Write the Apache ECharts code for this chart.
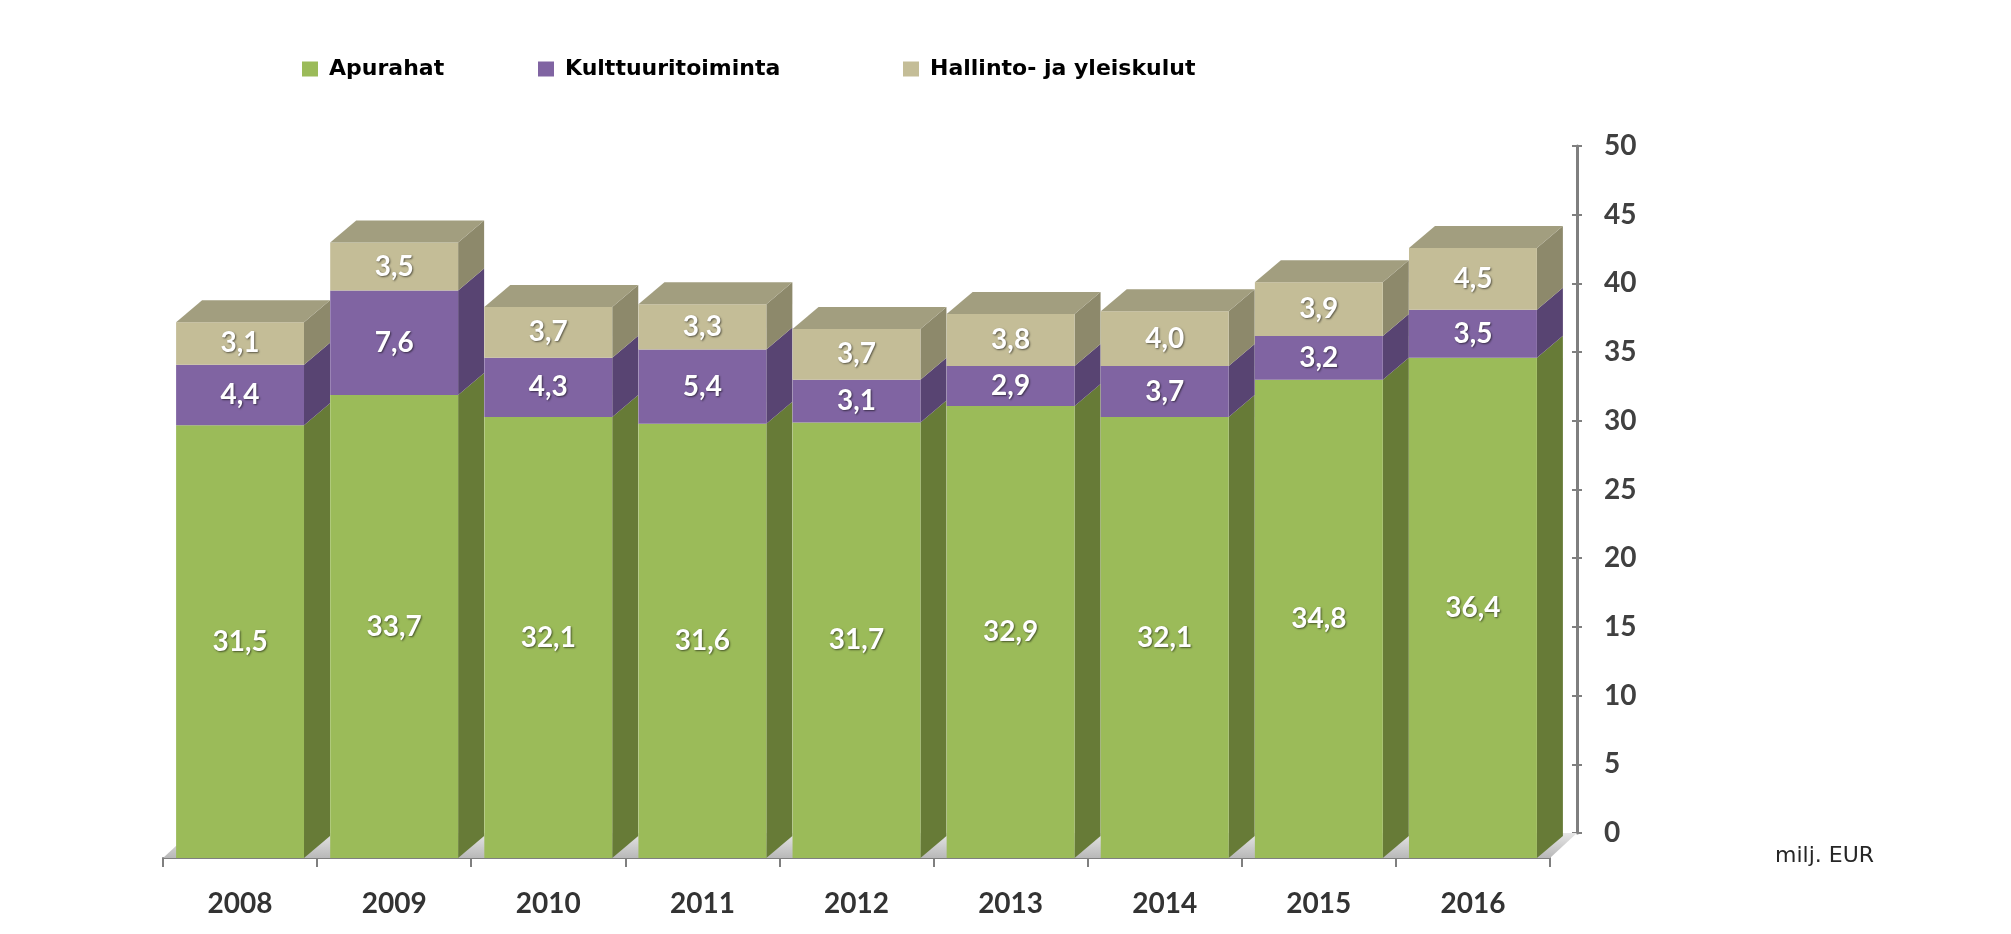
<!DOCTYPE html>
<html>
<head>
<meta charset="utf-8">
<script src="https://cdn.jsdelivr.net/npm/echarts@6/dist/echarts.min.js"></script>
<style>
html,body{margin:0;padding:0;background:#fff;}
#chart{width:2011px;height:934px;}
</style>
</head>
<body>
<div id="chart"></div>
<script>
const years = ['2008','2009','2010','2011','2012','2013','2014','2015','2016'];
const apurahat = [31.5, 33.7, 32.1, 31.6, 31.7, 32.9, 32.1, 34.8, 36.4];
const kulttuuritoiminta = [4.4, 7.6, 4.3, 5.4, 3.1, 2.9, 3.7, 3.2, 3.5];
const hallinto = [3.1, 3.5, 3.7, 3.3, 3.7, 3.8, 4.0, 3.9, 4.5];
const seriesNames = ['Apurahat', 'Kulttuuritoiminta', 'Hallinto- ja yleiskulut'];
const yMin = 0, yMax = 50, yInterval = 5;

const BAR_DX = 26, BAR_DY = 22;   // bar depth in pixels
const WALL_DX = 27, WALL_DY = 25; // offset of back wall (value axis)
const BAR_RATIO = 0.83;

const faceColors = [
  {front: '#9bbb59', side: '#677b37', top: '#86a24a'},
  {front: '#8064a2', side: '#584472', top: '#6a5488'},
  {front: '#c4bd97', side: '#8d896b', top: '#a29e7f'}
];

function fmt(v){ return v.toFixed(1).replace('.', ','); }

function buildData(values, below){
  return values.map(function(v, i){
    const lo = below.reduce(function(s, arr){ return s + arr[i]; }, 0);
    return [i, lo, lo + v, v];
  });
}
const stackArrays = [apurahat, kulttuuritoiminta, hallinto];

function makeRender(k, isTop){
  const c = faceColors[k];
  return function(params, api){
    const i = api.value(0), lo = api.value(1), hi = api.value(2), v = api.value(3);
    const pLo = api.coord([i, lo]);
    const pHi = api.coord([i, hi]);
    const bw = api.size([1, 0])[0] * BAR_RATIO;
    const x0 = pLo[0] - bw / 2, x1 = pLo[0] + bw / 2;
    const yb = pLo[1], yt = pHi[1];
    const children = [
      {type: 'polygon', shape: {points: [[x1, yb], [x1 + BAR_DX, yb - BAR_DY], [x1 + BAR_DX, yt - BAR_DY], [x1, yt]]},
        style: {fill: c.side}},
      {type: 'rect', shape: {x: x0, y: yt, width: bw, height: yb - yt}, style: {fill: c.front}}
    ];
    if (isTop) {
      children.push({type: 'polygon', shape: {points: [[x0, yt], [x1, yt], [x1 + BAR_DX, yt - BAR_DY], [x0 + BAR_DX, yt - BAR_DY]]},
        style: {fill: c.top}});
    }
    children.push({type: 'text', x: pLo[0], y: (yb + yt) / 2,
      style: {text: fmt(v), fill: '#ffffff', align: 'center', verticalAlign: 'middle',
        font: 'bold 28px Lato', textShadowColor: 'rgba(0,0,0,0.55)', textShadowBlur: 2,
        textShadowOffsetX: 1, textShadowOffsetY: 1}});
    return {type: 'group', children: children};
  };
}

const series = [];
// floor
series.push({
  type: 'custom', name: 'floor', xAxisIndex: 0, yAxisIndex: 0, silent: true, z: 1,
  data: [[0, 0]],
  renderItem: function(params, api){
    const cs = params.coordSys;
    const yb = cs.y + cs.height;
    return {type: 'polygon', shape: {points: [[cs.x, yb], [cs.x + cs.width, yb], [cs.x + cs.width + WALL_DX, yb - WALL_DY], [cs.x + WALL_DX, yb - WALL_DY]]},
      style: {fill: {type: 'linear', x: 0, y: 0, x2: 0, y2: 1, colorStops: [{offset: 0, color: '#e6e6e6'}, {offset: 1, color: '#b8b8b8'}]}}};
  }
});
stackArrays.forEach(function(arr, k){
  series.push({
    type: 'custom', name: seriesNames[k], xAxisIndex: 0, yAxisIndex: 0, z: 2 + k,
    itemStyle: {color: faceColors[k].front},
    encode: {x: 0, y: 2},
    clip: false,
    data: buildData(arr, stackArrays.slice(0, k)),
    renderItem: makeRender(k, k === stackArrays.length - 1)
  });
});

const legendCommon = {
  top: 53, itemWidth: 16, itemHeight: 15, icon: 'rect', selectedMode: false,
  textStyle: {fontFamily: 'DejaVu Sans', fontWeight: 'bold', fontSize: 22, color: '#000', padding: [0, 0, 0, 6]}
};

const chart = echarts.init(document.getElementById('chart'), null, {renderer: 'canvas'});
chart.setOption({
  animation: false,
  backgroundColor: '#ffffff',
  legend: [
    Object.assign({}, legendCommon, {left: 297, data: [seriesNames[0]]}),
    Object.assign({}, legendCommon, {left: 533, data: [seriesNames[1]]}),
    Object.assign({}, legendCommon, {left: 898, data: [seriesNames[2]]})
  ],
  grid: [
    {left: 163, right: 461, top: 171, bottom: 76},
    {left: 163 + WALL_DX, right: 461 - WALL_DX, top: 171 - WALL_DY, bottom: 76 + WALL_DY}
  ],
  xAxis: [
    {type: 'category', gridIndex: 0, data: years, boundaryGap: true,
      axisLine: {show: true, lineStyle: {color: '#7f7f7f', width: 2}},
      axisTick: {show: true, length: 9, lineStyle: {color: '#7f7f7f', width: 2}},
      axisLabel: {margin: 32, fontFamily: 'Lato', fontWeight: 'bold', fontSize: 28, color: '#333333'},
      splitLine: {show: false}},
    {type: 'category', gridIndex: 1, data: years, show: false}
  ],
  yAxis: [
    {type: 'value', gridIndex: 0, min: yMin, max: yMax, interval: yInterval, show: false},
    {type: 'value', gridIndex: 1, position: 'right', min: yMin, max: yMax, interval: yInterval,
      axisLine: {show: true, lineStyle: {color: '#7f7f7f', width: 3}},
      axisTick: {show: true, length: 5, lineStyle: {color: '#7f7f7f', width: 2}},
      axisLabel: {margin: 27, fontFamily: 'Lato', fontWeight: 'bold', fontSize: 28, color: '#404040'},
      splitLine: {show: false}},
    {type: 'value', gridIndex: 1, position: 'right', min: yMin, max: yMax, interval: yInterval,
      axisLine: {show: false},
      axisTick: {show: true, inside: true, length: 5, lineStyle: {color: '#7f7f7f', width: 2}},
      axisLabel: {show: false}, splitLine: {show: false}}
  ],
  graphic: [
    {type: 'text', left: 1775, top: 845,
      style: {text: 'milj. EUR', font: '22px "DejaVu Sans"', fill: '#262626'}}
  ],
  series: series
});
</script>
</body>
</html>
